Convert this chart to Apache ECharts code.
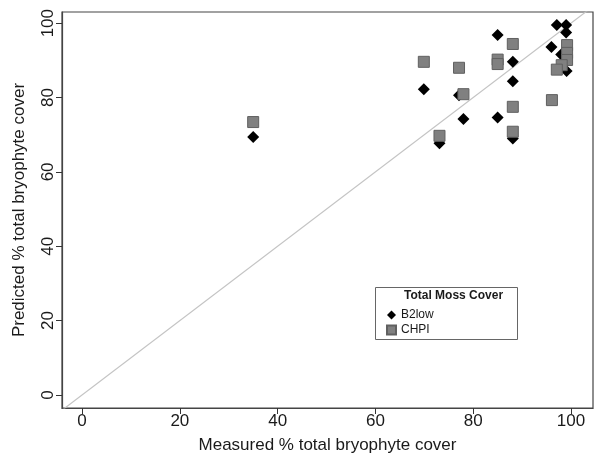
<!DOCTYPE html>
<html>
<head>
<meta charset="utf-8">
<script src="https://cdn.jsdelivr.net/npm/echarts@6/dist/echarts.min.js"></script>
<style>
  html, body { margin: 0; padding: 0; background: #fff; }
  #main { width: 597px; height: 460px; }
</style>
</head>
<body>
<div id="main"></div>
<script>
// measured vs predicted
var b2lowMeasured  = [35, 69.9, 77.1, 78, 73.1, 85, 85, 88.1, 88.1, 88.1, 96, 97.1, 99, 99, 98, 99.1];
var b2lowPredicted = [69.4, 82.2, 80.6, 74.2, 67.7, 96.8, 74.6, 89.6, 84.4, 69.0, 93.6, 99.5, 99.5, 97.5, 91.6, 87.1];
var chpiMeasured   = [35, 69.9, 77.1, 78, 73.1, 85, 85, 88.1, 88.1, 88.1, 96.1, 99.2, 99.2, 99.2, 98.1, 97.1];
var chpiPredicted  = [73.4, 89.6, 88.0, 80.9, 69.7, 90.2, 89.0, 94.4, 77.5, 70.8, 79.3, 94.1, 92.0, 90.1, 88.7, 87.5];
var tickValues = [0, 20, 40, 60, 80, 100];

var xMin = -4.1, xMax = 104.5;
var yMin = -3.5, yMax = 103;

function pairs(xs, ys) {
    return xs.map(function (x, i) { return [x, ys[i]]; });
}

(function drawScatter() {
    var chartDom = document.getElementById('main');
    var myChart = echarts.init(chartDom);
    var option;

    var axisCommon = {
        type: 'value',
        nameLocation: 'middle',
        nameTextStyle: { fontSize: 17, color: '#1a1a1a', fontFamily: 'Liberation Sans' },
        axisLine: { show: true, onZero: false, lineStyle: { color: '#444', width: 1.2 } },
        axisTick: { show: true, length: 6, customValues: tickValues, lineStyle: { color: '#333' } },
        axisLabel: { customValues: tickValues, fontSize: 17, color: '#1a1a1a', fontFamily: 'Liberation Sans' },
        splitLine: { show: false }
    };

    option = {
        animation: false,
        grid: {
            left: 62, right: 4, top: 12, bottom: 52,
            show: true, borderColor: '#444', borderWidth: 1.2
        },
        xAxis: Object.assign({}, axisCommon, {
            min: xMin, max: xMax,
            name: 'Measured % total bryophyte cover',
            nameGap: 29,
            axisLabel: Object.assign({}, axisCommon.axisLabel, { margin: 5 })
        }),
        yAxis: Object.assign({}, axisCommon, {
            min: yMin, max: yMax,
            name: 'Predicted % total bryophyte cover',
            nameGap: 34,
            axisLabel: Object.assign({}, axisCommon.axisLabel, { rotate: 90, margin: 5 })
        }),
        legend: {
            data: ['B2low', 'CHPI'],
            orient: 'vertical',
            left: 381, top: 304,
            itemWidth: 9, itemHeight: 9, itemGap: 3,
            textStyle: { fontSize: 12, color: '#1a1a1a', fontFamily: 'Liberation Sans' }
        },
        graphic: [
            {
                type: 'rect', left: 375, top: 287, z: -1,
                shape: { width: 142, height: 52 },
                style: { fill: '#fff', stroke: '#666', lineWidth: 1 }
            },
            {
                type: 'text', left: 404, top: 290,
                style: { text: 'Total Moss Cover', font: 'bold 12px "Liberation Sans"', fill: '#1a1a1a' }
            }
        ],
        series: [
            {
                name: 'ref',
                type: 'line',
                data: [[xMin, xMin], [xMax, xMax]],
                symbol: 'none',
                silent: true,
                clip: true,
                lineStyle: { color: '#c4c4c4', width: 1.2 },
                z: 1
            },
            {
                name: 'B2low',
                type: 'scatter',
                symbol: 'diamond',
                symbolSize: 12,
                itemStyle: { color: '#000', opacity: 1 },
                data: pairs(b2lowMeasured, b2lowPredicted),
                z: 2
            },
            {
                name: 'CHPI',
                type: 'scatter',
                symbol: 'rect',
                symbolSize: 11,
                itemStyle: { color: '#808080', borderColor: '#606060', borderWidth: 1, opacity: 1 },
                data: pairs(chpiMeasured, chpiPredicted),
                z: 3
            }
        ]
    };

    option && myChart.setOption(option);
})();
</script>
</body>
</html>
